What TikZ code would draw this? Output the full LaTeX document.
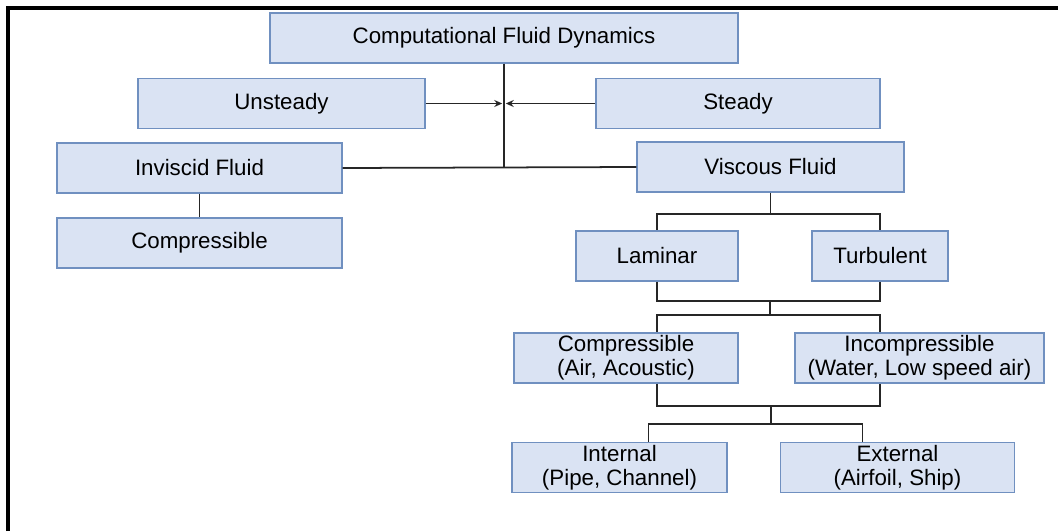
\documentclass[tikz,border=0pt]{standalone}
\usepackage{fontspec}
\setmainfont{Liberation Sans}
\usetikzlibrary{arrows.meta}
\definecolor{boxfill}{HTML}{DAE3F3}
\definecolor{boxline}{HTML}{7090C0}
\definecolor{wire}{HTML}{262626}

\begin{document}
\begin{tikzpicture}[x=0.02cm,y=-0.02cm,>={Stealth[length=1.6mm,width=1.4mm]},
  font=\fontsize{12.7}{13.5}\selectfont,
  cfdbox/.style={draw=boxline,fill=boxfill,line width=0.8pt,align=center,inner sep=0pt,
    minimum height=1cm},
  link/.style={draw=wire,line width=1pt}]
\useasboundingbox (0,0) rectangle (1058,531);
% frame
\draw[line width=2.2pt] (8,531) -- (8,8) -- (1058,8);
% boxes
\node[cfdbox,minimum width=9.36cm] (cfd) at (504,38) {Computational Fluid Dynamics};
\node[cfdbox,minimum width=5.74cm] (uns) at (281.5,103.5) {Unsteady};
\node[cfdbox,minimum width=5.68cm] (std) at (738,103.5) {Steady};
\node[cfdbox,minimum width=5.7cm] (inv) at (199.5,168) {Inviscid Fluid};
\node[cfdbox,minimum width=5.34cm] (visc) at (770.5,167) {Viscous Fluid};
\node[cfdbox,minimum width=5.7cm] (comp) at (199.5,243) {Compressible};
\node[cfdbox,minimum width=3.24cm] (lam) at (657,256) {Laminar};
\node[cfdbox,minimum width=2.72cm] (turb) at (880,256) {Turbulent};
\node[cfdbox,minimum width=4.48cm] (compr) at (626,358) {Compressible\\(Air, Acoustic)};
\node[cfdbox,minimum width=4.98cm] (incomp) at (919.5,358) {Incompressible\\(Water, Low speed air)};
\node[cfdbox,minimum width=4.3cm] (intl) at (619.5,467.5) {Internal\\(Pipe, Channel)};
\node[cfdbox,minimum width=4.68cm] (extl) at (897.5,467.5) {External\\(Airfoil, Ship)};
% top junction
\coordinate (hub) at (cfd.south |- uns.east);
\draw[link] (inv.east) -- (visc.west);
\draw[link] (cfd.south) -- (cfd.south |- inv.east);
\draw[link,->] (uns.east) -- ([xshift=-1pt]hub);
\draw[link,->] (std.west) -- ([xshift=1pt]hub);
\draw[link] (inv.south) -- (comp.north);
% viscous tree
\draw[link] (visc.south) -- ++(0,21) -| (lam.north);
\draw[link] (visc.south) ++(0,21) -| (turb.north);
\draw[link] (lam.south) -- ++(0,19) -| (turb.south);
\coordinate (j1) at (770,300);
\draw[link] (j1) -- ++(0,15) -| (compr.north -| lam.south);
\draw[link] (j1) ++(0,15) -| (incomp.north -| turb.south);
\draw[link] (compr.south -| lam.south) -- ++(0,22) -| (incomp.south -| turb.south);
\coordinate (j2) at (771,405);
\draw[link] (j2) -- ++(0,19) -| ([xshift=0.58cm]intl.north);
\draw[link] (j2) ++(0,19) -| ([xshift=-0.7cm]extl.north);
\end{tikzpicture}
\end{document}
